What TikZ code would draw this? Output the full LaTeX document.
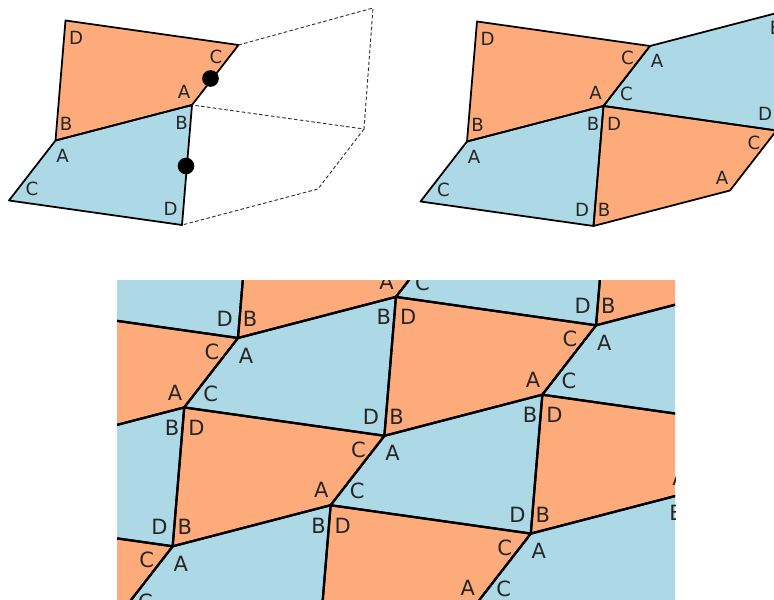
\documentclass[tikz,border=0pt]{standalone}
\usepackage{fontspec}
\setmainfont{DejaVu Sans}
\definecolor{tileblue}{HTML}{ADD8E6}
\definecolor{tileorange}{HTML}{FDAB7B}
\tikzset{
    tilelabel/.style={transform shape, inner sep=0pt, text=black!85, font=\fontsize{15.5}{15.5}\selectfont},
    tileedge/.style={draw=black, line join=round},
    ghostedge/.style={draw=black!80, line width=0.8pt, densely dashed},
    markdot/.style={circle, fill=black, inner sep=0pt, minimum size=0.5cm},
    blueface/.pic={
        \coordinate (-A) at (0,0);
        \coordinate (-B) at (136.5,-35.5);
        \coordinate (-D) at (126.5,84.5);
        \coordinate (-C) at (-46.5,60);
        \fill[tileblue] (-A)--(-B)--(-D)--(-C)--cycle;
        \node[tilelabel] (-la) at (7,15) {A};
        \node[tilelabel] (-lb) at (126,-18) {B};
        \node[tilelabel] (-ld) at (115,68) {D};
        \node[tilelabel] (-lc) at (-23.5,48) {C};
    },
    orangeface/.pic={
        \coordinate (-A) at (0,0);
        \coordinate (-B) at (-136.5,35.5);
        \coordinate (-D) at (-126.5,-84.5);
        \coordinate (-C) at (46.5,-60);
        \fill[tileorange] (-A)--(-B)--(-D)--(-C)--cycle;
        \node[tilelabel] (-la) at (-8,-13) {A};
        \node[tilelabel] (-lb) at (-126,19) {B};
        \node[tilelabel] (-ld) at (-116,-67) {D};
        \node[tilelabel] (-lc) at (24,-48) {C};
    },
    blueedge/.pic={
        \draw[tileedge] (0,0)--(136.5,-35.5)--(126.5,84.5)--(-46.5,60)--cycle;
    },
    orangeedge/.pic={
        \draw[tileedge] (0,0)--(-136.5,35.5)--(-126.5,-84.5)--(46.5,-60)--cycle;
    }
}
\begin{document}
\begin{tikzpicture}[x=0.03cm, y=-0.03cm, line width=1.5pt]
    \useasboundingbox (0,0) rectangle (774,600);
    \clip (0,0) rectangle (774,600);

    % Left panel
    \pic (o1) at (192,105) {orangeface};
    \pic (b1) at (55.5,140.5) {blueface};
    \pic at (192,105) {orangeedge};
    \pic at (55.5,140.5) {blueedge};
    \coordinate (g1) at (373,8);
    \coordinate (g2) at (364,129);
    \coordinate (g3) at (318,189);
    \draw[ghostedge] (o1-C)--(g1)--(g2)--(o1-A);
    \draw[ghostedge] (g2)--(g3)--(b1-D);
    \node[markdot] (m1) at (210.5,78.5) {};
    \node[markdot] (m2) at (186,166) {};

    % Right panel
    \pic (o2) at (603.5,106) {orangeface};
    \pic (o3) at (730,190.5) {orangeface};
    \pic (b2) at (467,141.5) {blueface};
    \pic (b3) at (650,46) {blueface};
    \pic at (603.5,106) {orangeedge};
    \pic at (730,190.5) {orangeedge};
    \pic at (467,141.5) {blueedge};
    \pic at (650,46) {blueedge};

    % Lower panel
    \begin{scope}[line width=1.9pt]
        \clip (117,281) rectangle (675,600);
        % Blue tiles
        \foreach \i/\j in {-1/0,0/0,1/0,2/0,0/1,1/1,0/-1,1/-1}{
            \pgfmathsetmacro{\px}{238+146.4*\i+211.7*\j}
            \pgfmathsetmacro{\py}{338+97.8*\i-110.5*\j}
            \pic[scale=1.157] (bt\i\j) at (\px,\py) {blueface};
        }
        % Orange tiles
        \foreach \i/\j in {-1/0,0/0,1/0,-1/1,0/1,1/1,0/2,0/-1}{
            \pgfmathsetmacro{\qx}{330.6+146.4*\i+211.7*\j}
            \pgfmathsetmacro{\qy}{505.2+97.8*\i-110.5*\j}
            \pic[scale=1.157] (ot\i\j) at (\qx,\qy) {orangeface};
        }
        % Edges on top
        \foreach \i/\j in {-1/0,0/0,1/0,2/0,0/1,1/1,0/-1,1/-1}{
            \pgfmathsetmacro{\px}{238+146.4*\i+211.7*\j}
            \pgfmathsetmacro{\py}{338+97.8*\i-110.5*\j}
            \pic[scale=1.157] at (\px,\py) {blueedge};
        }
        \foreach \i/\j in {-1/0,0/0,1/0,-1/1,0/1,1/1,0/2,0/-1}{
            \pgfmathsetmacro{\qx}{330.6+146.4*\i+211.7*\j}
            \pgfmathsetmacro{\qy}{505.2+97.8*\i-110.5*\j}
            \pic[scale=1.157] at (\qx,\qy) {orangeedge};
        }
    \end{scope}
\end{tikzpicture}
\end{document}
